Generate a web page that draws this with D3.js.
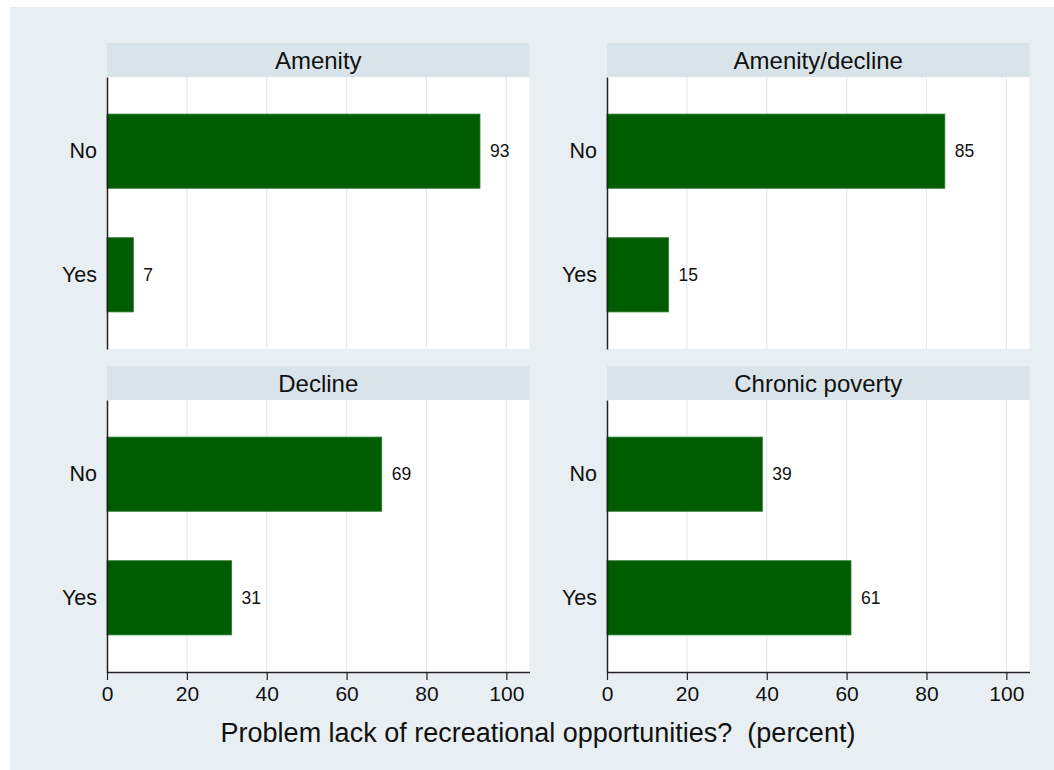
<!DOCTYPE html>
<html><head><meta charset="utf-8">
<script src="https://cdn.jsdelivr.net/npm/d3@7"></script>
<style>
html,body{margin:0;padding:0;background:#fff;}
svg{display:block;font-family:"Liberation Sans",Arial,sans-serif;}
</style></head>
<body>
<svg id="chart" width="1054" height="770"></svg>
<script>
// ---- data ----
const panels = ["Amenity", "Amenity/decline", "Decline", "Chronic poverty"];
const categories = ["No", "Yes"];
const amenityValues = [93.4, 6.6];
const amenityDeclineValues = [84.6, 15.4];
const declineValues = [68.8, 31.2];
const chronicPovertyValues = [38.9, 61.1];
const xTicks = [0, 20, 40, 60, 80, 100];
const xTitle = "Problem lack of recreational opportunities?  (percent)";

const seriesByPanel = [amenityValues, amenityDeclineValues, declineValues, chronicPovertyValues];

// ---- layout ----
const svg = d3.select("#chart");
const W = 1054, H = 770;
const bg = "#e8eff2", stripC = "#d9e4ea", gridC = "#e3ebef", barC = "#005c00";

svg.append("rect").attr("x", 10).attr("y", 7).attr("width", W - 10).attr("height", H - 7).attr("fill", bg);

const colX = [107, 607], plotW = 422.5;
const rowY = [77, 400], plotH = 272, stripH = 34;

const x = d3.scaleLinear().domain([0, 105.8]).range([0, plotW]);
const y = d3.scaleBand().domain(categories).range([0, plotH]).paddingInner(0.4).paddingOuter(0.3);
const fmt = d3.format(".0f");

panels.forEach((name, i) => {
  const col = i % 2, row = Math.floor(i / 2);
  const g = svg.append("g").attr("transform", `translate(${colX[col]},${rowY[row]})`);
  const vals = seriesByPanel[i];

  // strip
  g.append("rect").attr("x", 0).attr("y", -stripH).attr("width", plotW).attr("height", stripH).attr("fill", stripC);
  g.append("text").attr("x", plotW / 2).attr("y", -stripH / 2).attr("dy", "0.36em")
    .attr("text-anchor", "middle").attr("font-size", 24).attr("fill", "#111").text(name);

  // plot area
  g.append("rect").attr("width", plotW).attr("height", plotH).attr("fill", "#fff");

  // grid
  g.selectAll("line.grid").data(xTicks.filter(t => t > 0)).enter().append("line")
    .attr("x1", d => x(d)).attr("x2", d => x(d)).attr("y1", 0).attr("y2", plotH)
    .attr("stroke", gridC).attr("stroke-width", 1.2);

  // bars
  g.selectAll("rect.bar").data(categories.map((c, k) => ({c, v: vals[k]}))).enter().append("rect")
    .attr("x", 0).attr("y", d => y(d.c)).attr("width", d => x(d.v)).attr("height", y.bandwidth())
    .attr("fill", barC).attr("stroke", "#2f7a2f").attr("stroke-width", 0.8);

  // value labels
  g.selectAll("text.val").data(categories.map((c, k) => ({c, v: vals[k]}))).enter().append("text")
    .attr("x", d => x(d.v) + 10).attr("y", d => y(d.c) + y.bandwidth() / 2).attr("dy", "0.36em")
    .attr("font-size", 17.5).attr("fill", "#111").text(d => fmt(d.v));

  // y axis
  const ya = g.append("g").call(d3.axisLeft(y).tickSize(0).tickPadding(10));
  ya.select(".domain").attr("stroke", "#222").attr("stroke-width", 1.5);
  ya.selectAll("text").attr("font-size", 21.5).attr("fill", "#111").attr("font-family", "Liberation Sans, Arial, sans-serif");

  // x axis (bottom row only)
  if (row === 1) {
    const xa = g.append("g").attr("transform", `translate(0,${plotH})`)
      .call(d3.axisBottom(x).tickValues(xTicks).tickSize(8).tickPadding(6).tickSizeOuter(0));
    xa.select(".domain").attr("stroke", "#222").attr("stroke-width", 1.5);
    xa.selectAll(".tick line").attr("stroke", "#222").attr("stroke-width", 1.2);
    xa.selectAll("text").attr("font-size", 21).attr("fill", "#111").attr("font-family", "Liberation Sans, Arial, sans-serif");
  }
});

svg.append("text").attr("x", 538).attr("y", 742).attr("text-anchor", "middle")
  .style("white-space", "pre")
  .attr("font-size", 27).attr("fill", "#111").text(xTitle);
</script>
</body></html>
